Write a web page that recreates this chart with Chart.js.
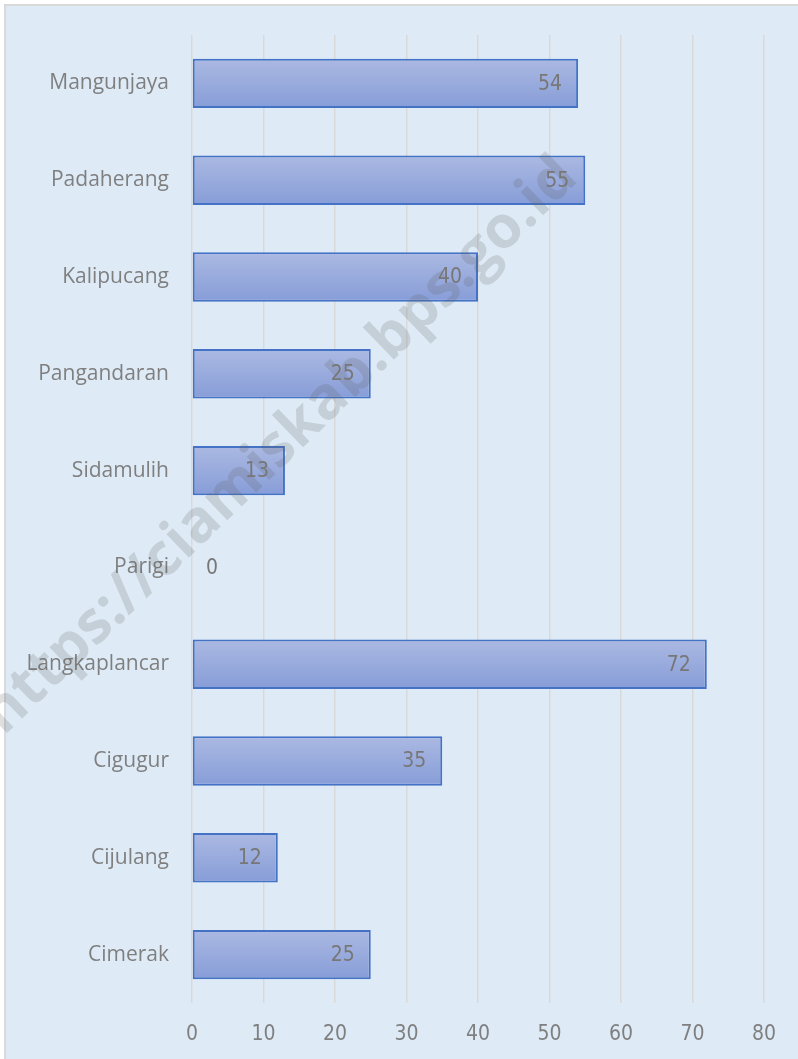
<!DOCTYPE html>
<html lang="id">
<head>
    <meta charset="UTF-8">
    <title>Grafik Kecamatan</title>
    <style>
        body {
            margin: 0;
            background-color: #ffffff;
            width: 798px;
            height: 1059px;
            overflow: hidden;
            position: relative;
        }
        .frame {
            position: absolute;
            left: 4px;
            top: 4px;
            width: 800px;
            height: 1060px;
            border-top: 2px solid #d9d9d9;
            border-left: 2px solid #d9d9d9;
            background-color: #deebf7;
        }
        .chart-container {
            position: absolute;
            left: 0;
            top: 0;
            width: 798px;
            height: 1059px;
        }
    </style>
</head>
<body>
    <div class="frame"></div>
    <div class="chart-container">
        <canvas id="chart"></canvas>
    </div>

    <script src="https://cdn.jsdelivr.net/npm/chart.js"></script>

    <script>
        // data
        const kecamatan = ['Mangunjaya', 'Padaherang', 'Kalipucang', 'Pangandaran', 'Sidamulih',
                           'Parigi', 'Langkaplancar', 'Cigugur', 'Cijulang', 'Cimerak'];
        const jumlah = [54, 55, 40, 25, 13, 0, 72, 35, 12, 25];
        const xTicks = [0, 10, 20, 30, 40, 50, 60, 70, 80];

        const labelFont = '"Liberation Sans Narrow", "DejaVu Sans Condensed", sans-serif';
        const grey = '#7f7f7f';
        const barPct = 0.51;

        // watermark first, value labels drawn over it
        const watermark = {
            id: 'watermark',
            afterDatasetsDraw(chart) {
                const ctx = chart.ctx;
                ctx.save();
                ctx.translate(568, 168);
                ctx.rotate(-44 * Math.PI / 180);
                ctx.font = 'bold 59px "Open Sans", sans-serif';
                ctx.fillStyle = 'rgba(95, 95, 95, 0.2)';
                ctx.textAlign = 'right';
                ctx.textBaseline = 'middle';
                ctx.fillText('https://ciamiskab.bps.go.id', 0, 0);
                ctx.restore();
            }
        };

        // value labels at the inside end of each bar
        const valueLabels = {
            id: 'valueLabels',
            afterDatasetsDraw(chart) {
                const ctx = chart.ctx;
                const meta = chart.getDatasetMeta(0);
                const xScale = chart.scales.x;
                ctx.save();
                ctx.font = '21px ' + labelFont;
                ctx.fillStyle = '#777777';
                ctx.textBaseline = 'middle';
                meta.data.forEach((bar, i) => {
                    const v = jumlah[i];
                    if (v === 0) {
                        ctx.textAlign = 'left';
                        ctx.fillText(String(v), xScale.getPixelForValue(0) + 14, bar.y + 1);
                    } else {
                        ctx.textAlign = 'right';
                        ctx.fillText(String(v), bar.x - 16, bar.y + 1);
                    }
                });
                ctx.restore();
            }
        };

        // vertical gradient for each bar, worked out from the category scale
        function barFill(c) {
            const chart = c.chart;
            const y = chart.scales && chart.scales.y;
            if (!chart.chartArea || !y || c.dataIndex === undefined) return '#9aacde';
            const center = y.getPixelForValue(c.dataIndex);
            const band = (chart.chartArea.bottom - chart.chartArea.top) / kecamatan.length;
            const h = band * barPct;
            const grad = chart.ctx.createLinearGradient(0, center - h / 2, 0, center + h / 2);
            grad.addColorStop(0, '#abb9e2');
            grad.addColorStop(1, '#879dd8');
            return grad;
        }

        const canvas = document.getElementById('chart');
        const g = canvas.getContext('2d');

        new Chart(g, {
            type: 'bar',
            data: {
                labels: kecamatan,
                datasets: [{
                    data: jumlah,
                    backgroundColor: barFill,
                    borderColor: '#4472c4',
                    borderWidth: 2,
                    borderSkipped: false,
                    categoryPercentage: 1.0,
                    barPercentage: barPct
                }]
            },
            plugins: [watermark, valueLabels],
            options: {
                indexAxis: 'y',
                responsive: true,
                maintainAspectRatio: false,
                animation: false,
                layout: {
                    padding: { top: 35, right: 34, bottom: 0, left: 0 }
                },
                plugins: {
                    legend: { display: false },
                    tooltip: { enabled: false }
                },
                scales: {
                    x: {
                        min: 0,
                        max: 80,
                        afterBuildTicks: (scale) => {
                            scale.ticks = xTicks.map(v => ({ value: v }));
                        },
                        afterFit: (scale) => { scale.height = 56; },
                        grid: {
                            color: '#d9d9d9',
                            lineWidth: 1.5,
                            drawTicks: false
                        },
                        border: { display: false },
                        ticks: {
                            padding: 19,
                            color: grey,
                            font: { family: labelFont, size: 21 }
                        }
                    },
                    y: {
                        afterFit: (scale) => { scale.width = 192; },
                        grid: { display: false },
                        border: { display: false },
                        ticks: {
                            padding: 15,
                            color: grey,
                            font: { family: '"Open Sans", sans-serif', size: 21 }
                        }
                    }
                }
            }
        });
    </script>
</body>
</html>
